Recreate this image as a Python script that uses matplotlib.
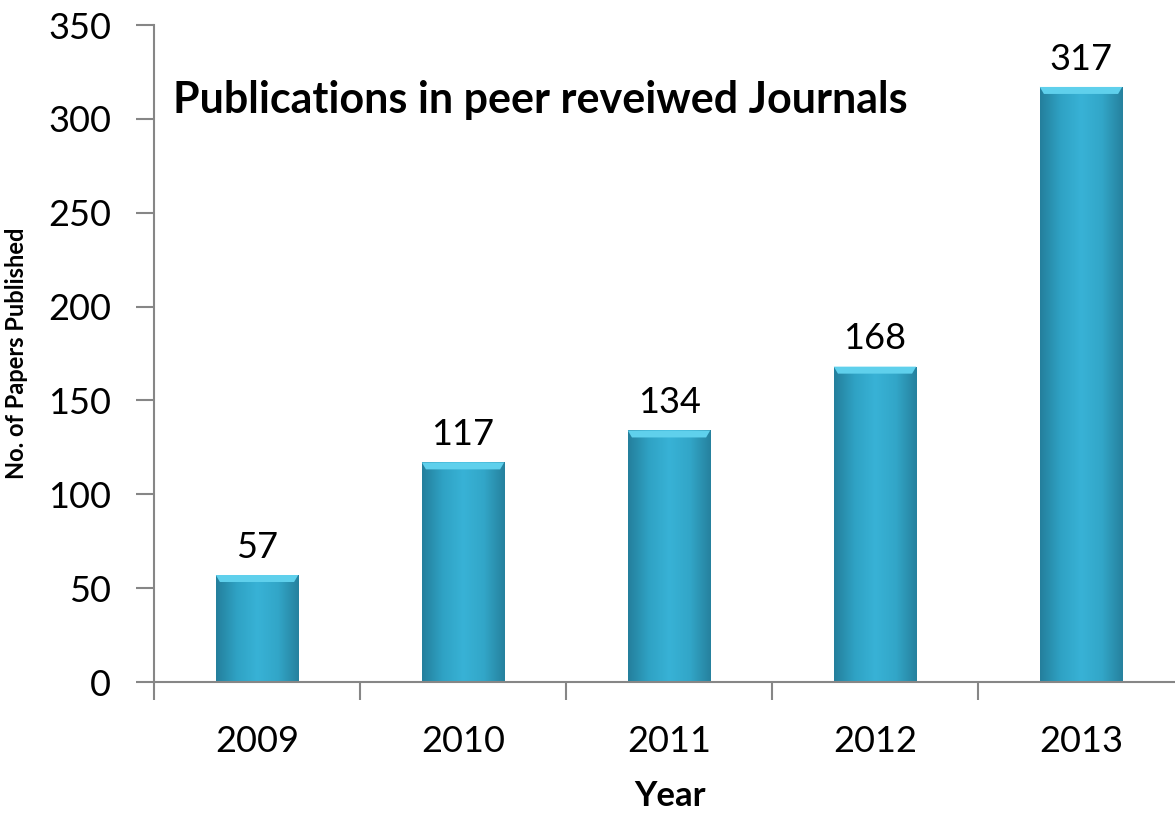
import numpy as np
import matplotlib
matplotlib.use("Agg")
import matplotlib.pyplot as plt
from matplotlib.patches import Rectangle, Polygon
from matplotlib.colors import LinearSegmentedColormap

years = ["2009", "2010", "2011", "2012", "2013"]
papers = [57, 117, 134, 168, 317]
yticks = [0, 50, 100, 150, 200, 250, 300, 350]

plt.rcParams['font.family'] = ['Lato', 'DejaVu Sans']

W, H = 1175, 813
fig = plt.figure(figsize=(W/100, H/100), dpi=100)
x0, x1 = 154/W, 1184/W
y0, y1 = 1 - 682/H, 1 - 25/H
ax = fig.add_axes([x0, y0, x1 - x0, y1 - y0])
ax.set_xlim(-0.5, len(years) - 0.5)
ax.set_ylim(0, 350)

cmap = LinearSegmentedColormap.from_list(
    "bar", ["#247f9c", "#2fa2c4", "#38b2d6", "#32a6c8", "#26819e"])
grad = np.linspace(0, 1, 200).reshape(1, -1)
bw = 0.40
px = 350 / 657.0  # data units per pixel (vertical)
for i, v in enumerate(papers):
    left = i - bw/2
    im = ax.imshow(grad, cmap=cmap, aspect='auto',
                   extent=[left, left + bw, 0, v], zorder=2)
    clip = Rectangle((left, 0), bw, v, transform=ax.transData)
    im.set_clip_path(clip)
    # top bevel (trapezoid)
    bh = 7 * px
    inset = 0.02
    ax.add_patch(Polygon([(left, v), (left + bw, v),
                          (left + bw - inset, v - bh), (left + inset, v - bh)],
                         closed=True, facecolor="#5fd0ec", edgecolor='none',
                         zorder=4))
    ax.text(i, v + 6, str(v), ha='center', va='bottom', fontsize=26,
            color='black')

ax.set_xticks(np.arange(len(years)))
ax.set_xticklabels(years, fontsize=26)
ax.set_xticks(np.arange(len(years) + 1) - 0.5, minor=True)
ax.tick_params(axis='x', which='major', length=0, pad=31)
ax.tick_params(axis='x', which='minor', length=13, width=1.5, color='#868686')
ax.set_yticks(yticks)
ax.set_yticklabels([str(t) for t in yticks], fontsize=26)
ax.tick_params(axis='y', length=13, width=1.5, color='#868686', pad=18)

for s in ['top', 'right']:
    ax.spines[s].set_visible(False)
for s in ['left', 'bottom']:
    ax.spines[s].set_color('#868686')
    ax.spines[s].set_linewidth(1.5)

fig.text(173/W, 1 - 100/H, "Publications in peer reveiwed Journals",
         fontsize=31, fontweight='bold', ha='left', va='center')
fig.text(17/W, 1 - 353/H, "No. of Papers Published", rotation=90,
         fontsize=17, fontweight='bold', ha='center', va='center')
fig.text(670/W, 1 - 796/H, "Year", fontsize=25, fontweight='bold',
         ha='center', va='center')

fig.savefig("out.png", dpi=100)
